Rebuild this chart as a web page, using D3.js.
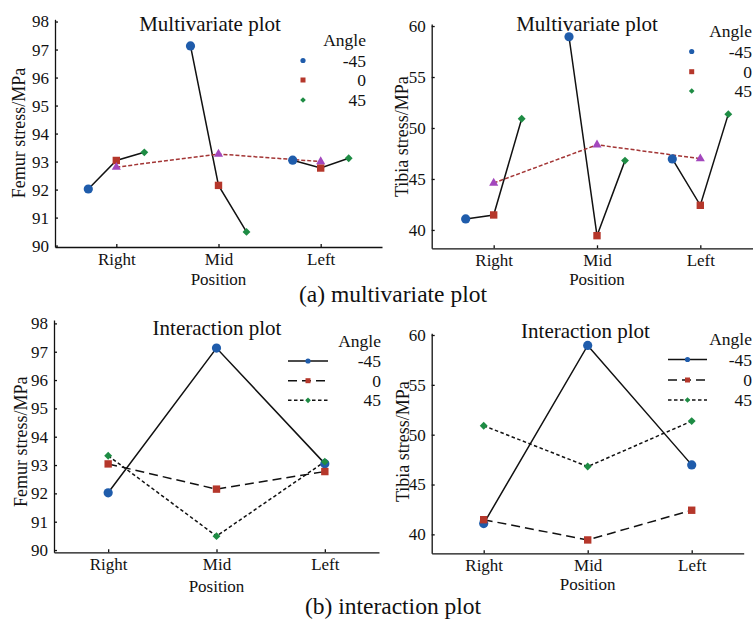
<!DOCTYPE html>
<html><head><meta charset="utf-8">
<script src="https://cdn.jsdelivr.net/npm/d3@7"></script>
<style>
body{margin:0;background:#fff}
</style>
</head><body><svg id="c" width="753" height="622"></svg>
<script>
// ---------- data ----------
const positions = ["Right", "Mid", "Left"];
const angles = ["-45", "0", "45"];
const femurM45 = [92.02, 97.13, 93.05];
const femur0 = [93.04, 92.15, 92.77];
const femur45 = [93.33, 90.49, 93.12];
const femurMean = [92.80, 93.27, 93.00];
const tibiaM45 = [41.08, 58.95, 46.97];
const tibia0 = [41.47, 39.44, 42.42];
const tibia45 = [50.90, 46.80, 51.36];
const tibiaMean = [44.60, 48.35, 46.99];
const femurTicks = [90, 91, 92, 93, 94, 95, 96, 97, 98];
const tibiaTicks = [40, 45, 50, 55, 60];
const titles = ["Multivariate plot", "Interaction plot"];
const yLabels = ["Femur stress/MPa", "Tibia stress/MPa"];
const captions = ["(a) multivariate plot", "(b) interaction plot"];
const xTitle = "Position";
const legendTitle = "Angle";

// ---------- styles ----------
const FONT = '"Liberation Serif", "Times New Roman", Times, serif';
const colors = {"-45": "#1f5cab", "0": "#b5372b", "45": "#1e8c44"};
const symbols = {"-45": "circle", "0": "square", "45": "diamond"};
const dashes = {"-45": null, "0": "9,5", "45": "3.5,2.5"};
const meanColor = "#a347bd", meanLine = "#a33535";

const svg = d3.select("#c");

const panels = [
  {kind: "multi", series: [femurM45, femur0, femur45], mean: femurMean, ticks: femurTicks, yl: 0, t: 0,
   x0: 55, x1: 382, pad: 0.6, yDom: [89.95, 98.08], yR: [247, 19.3], titleX: 210, titleY: 30.5,
   ylab: [19, 133], posY: 285,
   leg: {ax: 366, ay: 46, mx: 303, tx: 366, rows: [60.5, 80, 100]}},
  {kind: "multi", series: [tibiaM45, tibia0, tibia45], mean: tibiaMean, ticks: tibiaTicks, yl: 1, t: 0,
   x0: 431.7, x1: 762.3, pad: 0.6, yDom: [38.2, 60.2], yR: [248.3, 24], titleX: 587, titleY: 30.5,
   ylab: [402, 136.7], posY: 285,
   leg: {ax: 752, ay: 37, mx: 691.7, tx: 752, rows: [51.5, 71.7, 91]}},
  {kind: "inter", series: [femurM45, femur0, femur45], ticks: femurTicks, yl: 0, t: 1,
   x0: 54, x1: 379, pad: 0.5, yDom: [89.92, 98.12], yR: [552.3, 320], titleX: 217, titleY: 335,
   ylab: [20.5, 441.7], posY: 591.5,
   leg: {ax: 381, ay: 346.5, lx0: 288, lx1: 328, tx: 381, rows: [361, 380.7, 400.3]}},
  {kind: "inter", series: [tibiaM45, tibia0, tibia45], ticks: tibiaTicks, yl: 1, t: 1,
   x0: 431.7, x1: 743.7, pad: 0.5, yDom: [38.1, 60.17], yR: [553.3, 333.3], titleX: 585.5, titleY: 337.5,
   ylab: [402.5, 441.7], posY: 590,
   leg: {ax: 752, ay: 345, lx0: 668, lx1: 707, tx: 752, rows: [359.5, 380, 400]}}
];

function marker(g, type, cx, cy, s, color) {
  let path;
  if (type === "circle") path = d3.symbol(d3.symbolCircle, Math.PI * s * s)();
  else if (type === "square") path = d3.symbol(d3.symbolSquare, s * s)();
  else if (type === "diamond") path = d3.symbol(d3.symbolSquare, s * s)();
  else path = d3.symbol(d3.symbolTriangle, s)();
  return g.append("path").attr("d", path).attr("fill", color).attr("stroke", "none")
    .attr("transform", `translate(${cx},${cy})` + (type === "diamond" ? " rotate(45)" : ""));
}
const msize = {circle: 4.6, square: 7.4, diamond: 5.6, triangle: 36};
const lsize = {circle: 2.6, square: 5, diamond: 4};

function txt(sel, size) {
  return sel.style("font-family", FONT).style("font-size", size + "px").attr("fill", "#111");
}

panels.forEach(p => {
  const g = svg.append("g");
  const x = d3.scalePoint().domain(positions).range([p.x0, p.x1]).padding(p.pad);
  const y = d3.scaleLinear().domain(p.yDom).range(p.yR);

  // axes
  const xa = g.append("g").attr("transform", `translate(0,${p.yR[0]})`)
    .call(d3.axisBottom(x).tickSize(-3).tickSizeOuter(0).tickPadding(6));
  const ya = g.append("g").attr("transform", `translate(${p.x0},0)`)
    .call(d3.axisLeft(y).tickValues(p.ticks).tickSize(-3).tickSizeOuter(0).tickPadding(6).tickFormat(d3.format("d")));
  [xa, ya].forEach(a => {
    a.attr("font-family", FONT).attr("font-size", 17);
    txt(a.selectAll("text"), 17);
    a.selectAll("path,line").attr("stroke", "#111").attr("stroke-width", 1.3);
  });

  // texts
  txt(g.append("text").attr("x", p.titleX).attr("y", p.titleY).attr("text-anchor", "middle"), 21).text(titles[p.t]);
  txt(g.append("text").attr("transform", `translate(${p.ylab[0]},${p.ylab[1]}) rotate(-90)`)
    .attr("text-anchor", "middle").attr("dy", "0.35em"), 18).text(yLabels[p.yl]);
  txt(g.append("text").attr("x", x("Mid")).attr("y", p.posY).attr("text-anchor", "middle"), 17).text(xTitle);

  // legend
  txt(g.append("text").attr("x", p.leg.ax).attr("y", p.leg.ay).attr("text-anchor", "end"), 17.5).text(legendTitle);
  angles.forEach((a, j) => {
    const ry = p.leg.rows[j];
    if (p.kind === "multi") {
      marker(g, symbols[a], p.leg.mx, ry, lsize[symbols[a]], colors[a]);
    } else {
      g.append("line").attr("x1", p.leg.lx0).attr("x2", p.leg.lx1).attr("y1", ry).attr("y2", ry)
        .attr("stroke", "#111").attr("stroke-width", 1.5).attr("stroke-dasharray", dashes[a]);
      marker(g, symbols[a], (p.leg.lx0 + p.leg.lx1) / 2, ry, lsize[symbols[a]], colors[a]);
    }
    txt(g.append("text").attr("x", p.leg.tx).attr("y", ry).attr("dy", "0.35em").attr("text-anchor", "end"), 17.5).text(a);
  });

  if (p.kind === "multi") {
    const xo = d3.scalePoint().domain(angles).range([-28, 28]);
    const line = d3.line().x(d => d[0]).y(d => d[1]);
    positions.forEach((pos, i) => {
      const pts = angles.map((a, j) => [x(pos) + xo(a), y(p.series[j][i])]);
      g.append("path").attr("d", line(pts)).attr("fill", "none").attr("stroke", "#111").attr("stroke-width", 1.5);
    });
    const mpts = positions.map((pos, i) => [x(pos), y(p.mean[i])]);
    g.append("path").attr("d", line(mpts)).attr("fill", "none").attr("stroke", meanLine)
      .attr("stroke-width", 1.5).attr("stroke-dasharray", "4,2");
    positions.forEach((pos, i) => {
      angles.forEach((a, j) => {
        marker(g, symbols[a], x(pos) + xo(a), y(p.series[j][i]), msize[symbols[a]], colors[a]);
      });
    });
    positions.forEach((pos, i) => marker(g, "triangle", x(pos), y(p.mean[i]), msize.triangle, meanColor));
  } else {
    const line = d3.line().x((d, i) => x(positions[i])).y(d => y(d));
    angles.forEach((a, j) => {
      g.append("path").attr("d", line(p.series[j])).attr("fill", "none").attr("stroke", "#111")
        .attr("stroke-width", 1.5).attr("stroke-dasharray", dashes[a]);
    });
    angles.forEach((a, j) => {
      p.series[j].forEach((v, i) => marker(g, symbols[a], x(positions[i]), y(v), msize[symbols[a]], colors[a]));
    });
  }
});

// captions
txt(svg.append("text").attr("x", 393).attr("y", 301.5).attr("text-anchor", "middle"), 23.5).text(captions[0]);
txt(svg.append("text").attr("x", 393).attr("y", 613.5).attr("text-anchor", "middle"), 23.5).text(captions[1]);
</script>
</body></html>
